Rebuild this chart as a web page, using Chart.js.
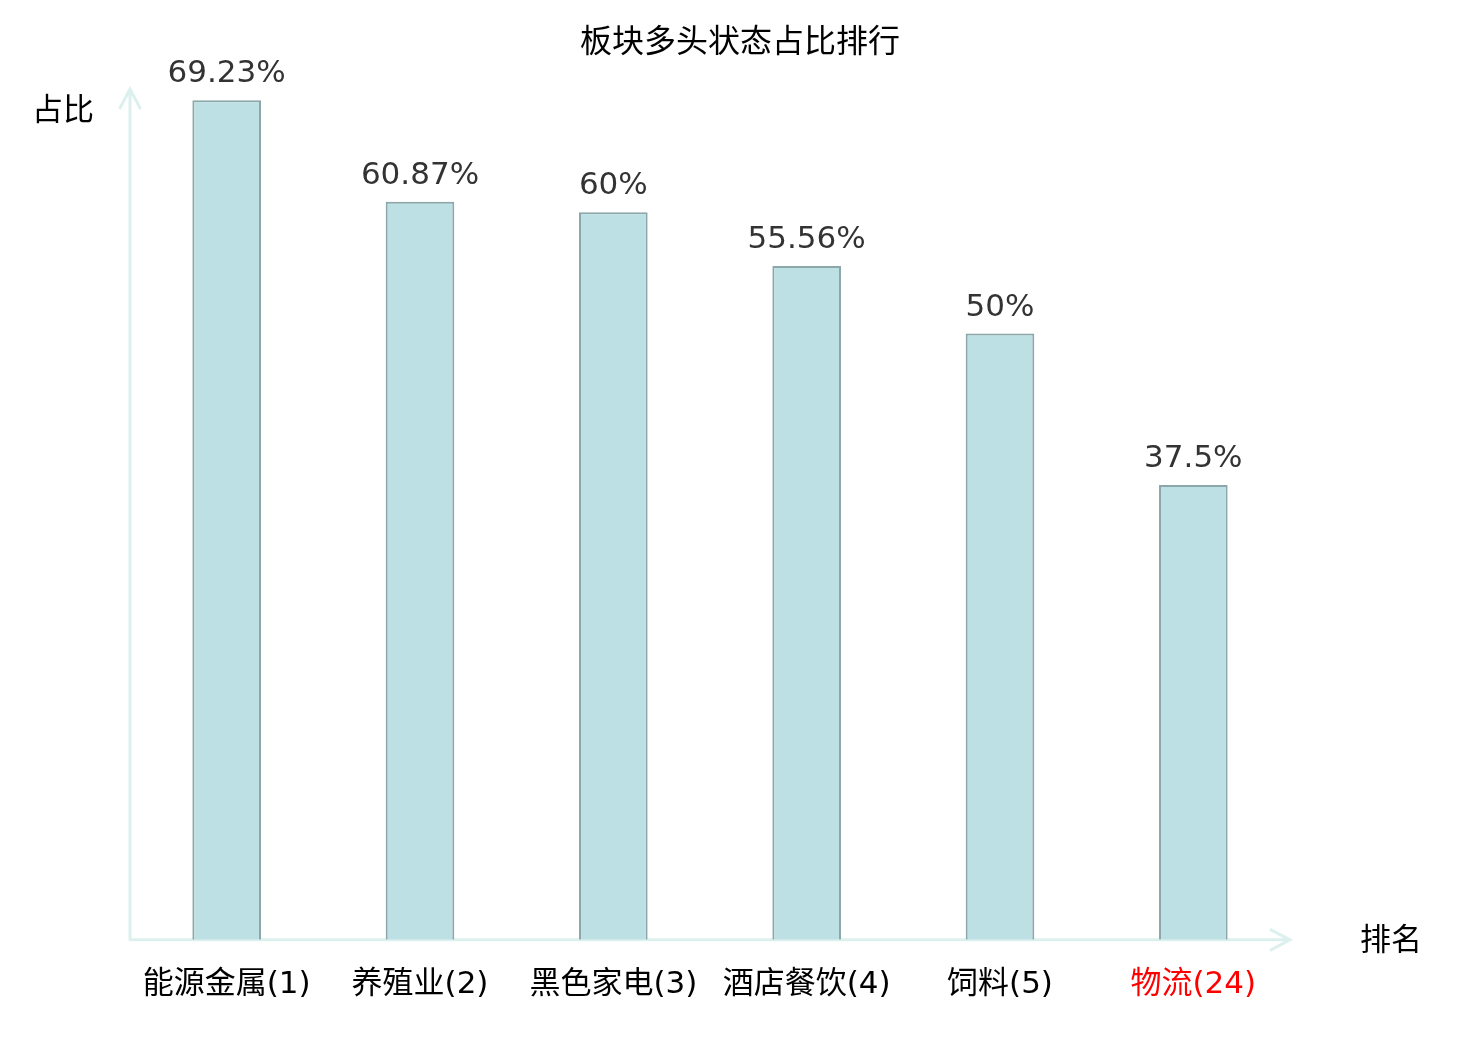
<!DOCTYPE html>
<html>
<head>
<meta charset="utf-8">
<script src="https://cdn.jsdelivr.net/npm/chart.js@4/dist/chart.umd.min.js"></script>
<style>
  html, body { margin: 0; padding: 0; background: #fff; }
  #wrap { width: 1480px; height: 1040px; }
</style>
</head>
<body>
<div id="wrap"><canvas id="sector_chart"></canvas></div>
<script>
const categories = ['能源金属(1)', '养殖业(2)', '黑色家电(3)', '酒店餐饮(4)', '饲料(5)', '物流(24)'];
const ratios = [69.23, 60.87, 60, 55.56, 50, 37.5];
const highlightIndex = 5;
const yMax = 70;

const FONT = '"DejaVu Sans", "Noto Sans CJK SC", sans-serif';
const axisColor = '#dcf1ee';
const chartTitle = '板块多头状态占比排行';

// title, axis lines with arrows, axis names, value labels
const decorations = {
  id: 'decorations',
  beforeDatasetsDraw(chart) {
    const { ctx, chartArea } = chart;
    const x0 = chartArea.left, y0 = chartArea.bottom;
    ctx.save();
    ctx.strokeStyle = axisColor;
    ctx.lineWidth = 3;
    ctx.lineCap = 'round';
    ctx.beginPath();
    ctx.moveTo(x0, y0);
    ctx.lineTo(x0, chartArea.top - 2);
    ctx.moveTo(x0 - 10, chartArea.top + 17);
    ctx.lineTo(x0, chartArea.top - 2);
    ctx.lineTo(x0 + 10, chartArea.top + 17);
    ctx.moveTo(x0, y0);
    ctx.lineTo(chartArea.right, y0);
    ctx.moveTo(chartArea.right - 19, y0 - 10);
    ctx.lineTo(chartArea.right, y0);
    ctx.lineTo(chartArea.right - 19, y0 + 10);
    ctx.stroke();
    ctx.restore();
  },
  afterDatasetsDraw(chart) {
    const { ctx, chartArea } = chart;
    ctx.save();
    ctx.fillStyle = '#000';
    ctx.textAlign = 'center';
    ctx.textBaseline = 'middle';
    ctx.font = '32px ' + FONT;
    ctx.fillText(chartTitle, chart.width / 2, 44);

    ctx.font = '31px ' + FONT;
    ctx.fillText('占比', 63, chartArea.top + 21);
    ctx.fillText('排名', chartArea.right + 101, chartArea.bottom + 2);

    ctx.fillStyle = '#333';
    ctx.textBaseline = 'alphabetic';
    chart.getDatasetMeta(0).data.forEach((bar, i) => {
      ctx.fillText(ratios[i] + '%', bar.x, bar.y - 18);
    });
    ctx.restore();
  }
};

new Chart(document.getElementById('sector_chart'), {
  type: 'bar',
  data: {
    labels: categories,
    datasets: [{
      data: ratios,
      backgroundColor: '#bce0e3',
      borderColor: '#8ca7a9',
      borderWidth: 2,
      barPercentage: 1,
      categoryPercentage: 0.355
    }]
  },
  options: {
    responsive: true,
    maintainAspectRatio: false,
    animation: false,
    layout: { padding: { left: 130, right: 190, top: 91, bottom: 9 } },
    plugins: {
      legend: { display: false },
      tooltip: { enabled: false },
      title: { display: false }
    },
    scales: {
      x: {
        grid: { display: false, drawTicks: false },
        border: { display: false },
        ticks: {
          padding: 27,
          maxRotation: 0,
          autoSkip: false,
          font: { family: FONT, size: 31, lineHeight: 1.2 },
          color: (c) => c.index === highlightIndex ? '#ff0000' : '#000'
        }
      },
      y: {
        display: false,
        min: 0,
        max: yMax
      }
    }
  },
  plugins: [decorations]
});
</script>
</body>
</html>
